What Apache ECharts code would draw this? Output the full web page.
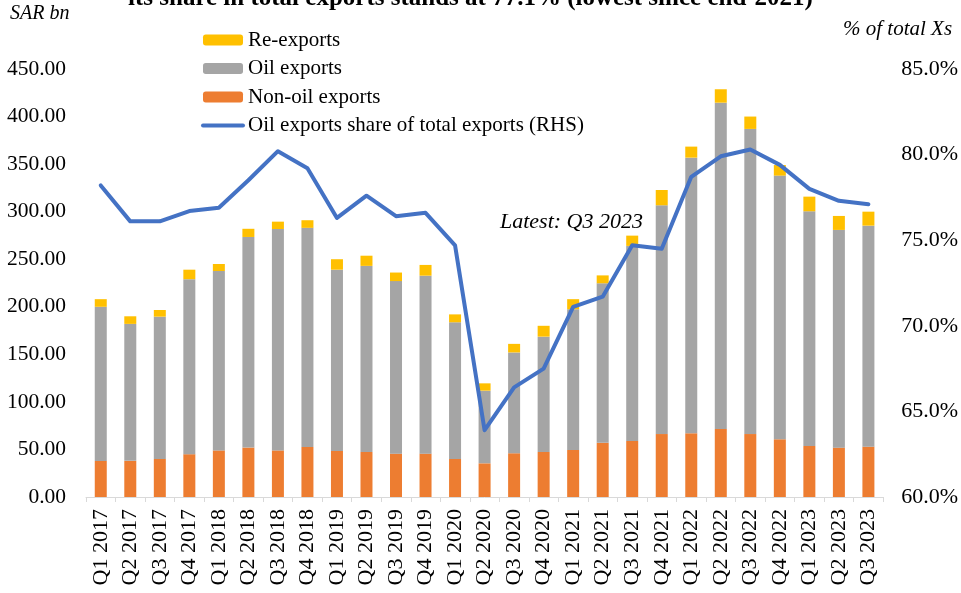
<!DOCTYPE html>
<html>
<head>
<meta charset="utf-8">
<script src="https://cdn.jsdelivr.net/npm/echarts@6/dist/echarts.min.js"></script>
<style>html,body{margin:0;padding:0;background:#fff;}#c{width:961px;height:593px;}</style>
</head>
<body>
<div id="c"></div>
<script>
var categories = ['Q1 2017','Q2 2017','Q3 2017','Q4 2017','Q1 2018','Q2 2018','Q3 2018','Q4 2018','Q1 2019','Q2 2019','Q3 2019','Q4 2019','Q1 2020','Q2 2020','Q3 2020','Q4 2020','Q1 2021','Q2 2021','Q3 2021','Q4 2021','Q1 2022','Q2 2022','Q3 2022','Q4 2022','Q1 2023','Q2 2023','Q3 2023'];
var nonOilExports = [37.9,38,40,45,49,52,49,52.6,48.4,47.3,45.6,45.6,40,35.4,46,47.3,49.4,57,58.9,66.2,67,71.5,66.2,60.7,53.6,51.9,52.9];
var oilExports = [162.1,144,149.6,184,188.6,221.4,232.8,230.4,190.6,195.7,181.4,187.1,143.7,76.4,106,121.3,148,167.7,205.1,240.5,289.8,343.1,320.8,277.2,246.8,228.9,232.4];
var reExports = [8,8,7,10,7.4,8.6,7.7,8,11,10.7,9,11.3,8.3,7.7,9,11.4,10.6,8.3,10.8,16.1,11.6,14.1,13,11.1,15.4,14.7,14.7];
var oilShare = [78.2,76.1,76.1,76.7,76.9,78.5,80.2,79.2,76.3,77.6,76.4,76.6,74.7,63.9,66.4,67.5,71.1,71.7,74.7,74.5,78.7,79.9,80.3,79.4,78.0,77.3,77.1];
var leftTicks = {min:0, max:450, interval:50};
var rightTicks = {min:60, max:85, interval:5};

var serif = "'Liberation Serif','Times New Roman',serif";
var lineName = 'Oil exports share of total exports (RHS)';
var chart = echarts.init(document.getElementById('c'));
chart.setOption({
  animation:false,
  backgroundColor:'#fff',
  textStyle:{fontFamily:serif, color:'#000'},
  grid:{left:86, right:76, top:69, bottom:96},
  legend:{
    orient:'vertical', left:196, top:24.5, itemWidth:40, itemHeight:11, itemGap:7.5,
    data:['Re-exports','Oil exports','Non-oil exports',{name:lineName, itemStyle:{opacity:0}, lineStyle:{width:4, color:'#4472C4', cap:'round'}}],
    textStyle:{fontFamily:serif, fontSize:21, lineHeight:21, color:'#000'}
  },
  xAxis:{
    type:'category', data:categories,
    axisLine:{lineStyle:{color:'#d9d9d9', width:1}},
    axisTick:{show:true, lineStyle:{color:'#d9d9d9'}, length:5},
    axisLabel:{rotate:90, fontSize:22, color:'#000', fontFamily:serif, margin:12, interval:0}
  },
  yAxis:[
    {type:'value', min:leftTicks.min, max:leftTicks.max, interval:leftTicks.interval,
     splitLine:{show:false}, axisLine:{show:false}, axisTick:{show:false},
     axisLabel:{fontSize:21.5, color:'#000', fontFamily:serif, margin:20, formatter:function(v){return v.toFixed(2);}}},
    {type:'value', min:rightTicks.min, max:rightTicks.max, interval:rightTicks.interval,
     splitLine:{show:false}, axisLine:{show:false}, axisTick:{show:false},
     axisLabel:{fontSize:22, color:'#000', fontFamily:serif, margin:18, formatter:function(v){return v.toFixed(1)+'%';}}}
  ],
  series:[
    {name:'Non-oil exports', type:'bar', stack:'x', data:nonOilExports, barWidth:12, itemStyle:{color:'#ED7D31'}},
    {name:'Oil exports', type:'bar', stack:'x', data:oilExports, itemStyle:{color:'#A5A5A5'}},
    {name:'Re-exports', type:'bar', stack:'x', data:reExports, itemStyle:{color:'#FFC000'}},
    {name:lineName, type:'line', yAxisIndex:1, data:oilShare,
     symbol:'none', lineStyle:{color:'#4472C4', width:4, cap:'round', join:'round'}, itemStyle:{color:'#4472C4'}}
  ],
  graphic:[
    {type:'text', left:128, top:-14, style:{text:'its share in total exports stands at 77.1% (lowest since end-2021)', font:"bold 25px "+serif, fill:'#000'}},
    {type:'text', left:10, top:4, style:{text:'SAR bn', font:"italic 20px "+serif, fill:'#000'}},
    {type:'text', left:843, top:19, style:{text:'% of total Xs', font:"italic 21px "+serif, fill:'#000'}},
    {type:'text', left:500, top:211, style:{text:'Latest: Q3 2023', font:"italic 22px "+serif, fill:'#000'}}
  ]
});
</script>
</body>
</html>
